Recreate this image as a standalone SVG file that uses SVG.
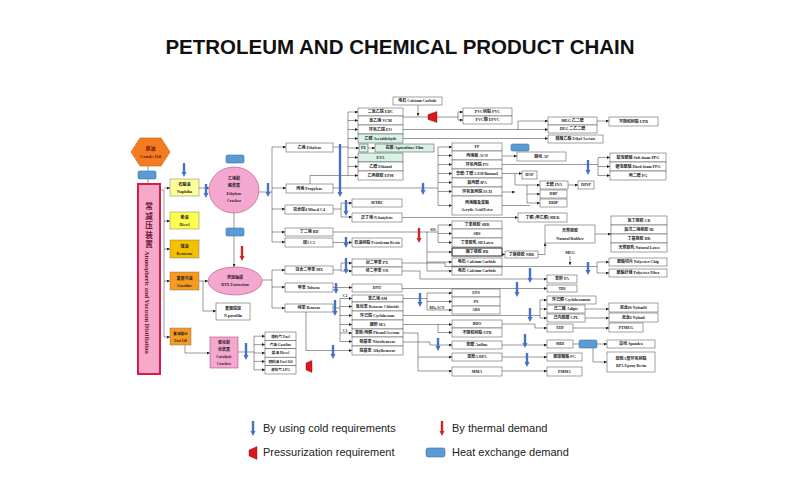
<svg xmlns="http://www.w3.org/2000/svg" width="800" height="500" viewBox="0 0 800 500">
<defs>
<style>
.n{fill:#fff;stroke:#444;stroke-width:0.5}
.g{fill:#d9f2e6;stroke:#444;stroke-width:0.5}
.t{font-family:"Liberation Serif","Noto Sans CJK SC",serif;font-size:4px;font-weight:bold;fill:#222;text-anchor:middle}
.s{font-size:3.6px}
.ln{fill:none;stroke:#333;stroke-width:0.5}
.ar{fill:none;stroke:#333;stroke-width:0.5;marker-end:url(#a)}
.bl{fill:none;stroke:#4472c4;stroke-width:2.4;marker-end:url(#ba)}
.rd{fill:none;stroke:#c62828;stroke-width:2.4;marker-end:url(#ra)}
.hx{fill:#5b9bd5;stroke:#41719c;stroke-width:0.6}
.pr{fill:#d7191f;stroke:#8a1010;stroke-width:0.4}
.lg{font-family:"Liberation Sans",Arial,sans-serif;font-size:11px;fill:#222}
.cj{font-family:"Noto Sans CJK SC",sans-serif;font-size:7.6px;font-weight:bold;fill:#6b1030;text-anchor:middle}
</style>
<marker id="a" viewBox="0 0 6 6" refX="6" refY="3" markerWidth="3" markerHeight="3" orient="auto" markerUnits="userSpaceOnUse"><path d="M0,0L6,3L0,6z" fill="#222"/></marker>
<marker id="ba" viewBox="0 0 6 6" refX="0" refY="3" markerWidth="5" markerHeight="5.5" orient="auto" markerUnits="userSpaceOnUse"><path d="M0,0L6,3L0,6z" fill="#4472c4"/></marker>
<marker id="ra" viewBox="0 0 6 6" refX="0" refY="3" markerWidth="5" markerHeight="5.5" orient="auto" markerUnits="userSpaceOnUse"><path d="M0,0L6,3L0,6z" fill="#c62828"/></marker>
</defs>
<rect width="800" height="500" fill="#fff"/>
<text x="400" y="54" text-anchor="middle" style="font-family:'Liberation Sans',Arial,sans-serif;font-size:20.5px;font-weight:bold;fill:#111">PETROLEUM AND CHEMICAL PRODUCT CHAIN</text>

<g id="connectors">
<path class="ln" d="M148,166V183"/>
<path class="ln" d="M160,190H164V337"/>
<path class="ar" d="M164,188H170"/><path class="ar" d="M164,221H170"/><path class="ar" d="M164,249H170"/><path class="ar" d="M164,281H170"/><path class="ar" d="M164,337H170"/>
<path class="ar" d="M199,188H209"/>
<path class="ar" d="M199,281H208"/>
<path class="ar" d="M234,213V267"/>
<path class="ar" d="M203,281V311H216"/>
<path class="ar" d="M185,345V353H210"/>
<path class="ln" d="M238,352H254M254,336.2V369.8"/>
<path class="ar" d="M254,336.2H265"/><path class="ar" d="M254,344.6H265"/><path class="ar" d="M254,353H265"/><path class="ar" d="M254,361.4H265"/><path class="ar" d="M254,369.8H265"/>
<path class="ln" d="M259,192H272M272,147V242"/>
<path class="ar" d="M272,147H286"/><path class="ar" d="M272,188H286"/><path class="ar" d="M272,209H285"/><path class="ar" d="M272,232H285"/><path class="ar" d="M272,242H285"/>
<path class="ln" d="M262,280H272M272,270V308"/>
<path class="ar" d="M272,270H285"/><path class="ar" d="M272,287H285"/><path class="ar" d="M272,308H285"/>
<path class="ln" d="M333,147H348M348,112V175.5M310,184V175.5H348"/>
<path class="ar" d="M348,112H358"/><path class="ar" d="M348,120.5H358"/><path class="ar" d="M348,129.5H358"/><path class="ar" d="M348,138.5H358"/><path class="ar" d="M348,148H359"/><path class="ar" d="M348,157.5H358"/><path class="ar" d="M348,166.5H358"/><path class="ar" d="M348,175.5H358"/>
<path class="ar" d="M368,148H375"/>
<path class="ln" d="M333,188H438M438,147V205.5"/>
<path class="ar" d="M438,147H452"/><path class="ar" d="M438,155.5H452"/><path class="ar" d="M438,164.5H452"/><path class="ar" d="M438,173.5H452"/><path class="ar" d="M438,182.5H452"/><path class="ar" d="M438,191.5H452"/><path class="ar" d="M438,205.5H452"/>
<path class="ar" d="M418,105V116"/>
<path class="ln" d="M403,117H428"/>
<path class="ln" d="M437,117H458M458,112V120"/>
<path class="ar" d="M458,112H463"/><path class="ar" d="M458,120H463"/>
<path class="ar" d="M403,129.5H548"/>
<path class="ar" d="M518,129.5V121H548"/>
<path class="ar" d="M403,138.5H548"/>
<path class="ar" d="M597,121H609"/>
<path class="ar" d="M502,156H517"/>
<path class="ln" d="M502,164.5H598M598,157.5V175.5"/>
<path class="ar" d="M598,157.5H610"/><path class="ar" d="M598,166.5H610"/><path class="ar" d="M598,175.5H610"/>
<path class="ar" d="M502,173.5H522"/>
<path class="ar" d="M515,173.5V185H540"/>
<path class="ln" d="M527,185V203"/>
<path class="ar" d="M527,194H540"/><path class="ar" d="M527,203H540"/>
<path class="ar" d="M568,185H578"/>
<path class="ar" d="M502,192H515"/><path class="ln" d="M502,205.5H530"/>
<path class="ln" d="M333,209H341M341,203V217"/>
<path class="ar" d="M341,203H352"/><path class="ar" d="M341,217H352"/>
<path class="ar" d="M402,217.5H518"/>
<path class="ln" d="M333,232H438M438,225V242.5"/>
<path class="ar" d="M438,225H452"/><path class="ar" d="M438,233.5H452"/><path class="ar" d="M438,242.5H452"/>
<path class="ar" d="M427,232V252H452"/>
<path class="ar" d="M427,252V262H452"/>
<path class="ar" d="M427,262V271H452"/>
<path class="ar" d="M502,254.5H505"/>
<path class="ar" d="M538,254.5H545V243"/>
<path class="ar" d="M595,234H611"/>
<path class="ar" d="M333,242.5H352"/>
<path class="ln" d="M333,270H341M341,263V271"/>
<path class="ar" d="M341,263H352"/><path class="ar" d="M341,271H352"/>
<path class="ln" d="M402,263H445V266.5H597M597,262V273"/>
<path class="ar" d="M597,262H609"/><path class="ar" d="M597,273H609"/>
<path class="ar" d="M570,256V265"/>
<path class="ar" d="M402,271H420V279H547"/>
<path class="ar" d="M333,287.5H352"/>
<path class="ar" d="M402,288.5H547"/>
<path class="ln" d="M333,308H340M340,298.5V341.5"/>
<path class="ar" d="M340,298.5H352"/><path class="ar" d="M340,306.5H352"/><path class="ar" d="M340,315.5H352"/><path class="ar" d="M340,324.5H352"/><path class="ar" d="M340,333H352"/><path class="ar" d="M340,341.5H352"/>
<path class="ar" d="M306,312V350.5H352"/>
<path class="ln" d="M403,298.5H427M427,293V310"/>
<path class="ar" d="M427,293H452"/><path class="ar" d="M427,301.5H452"/><path class="ar" d="M427,310H452"/>
<path class="ln" d="M403,315.5H540M540,300V318"/>
<path class="ar" d="M540,300H547"/><path class="ar" d="M540,309H547"/><path class="ar" d="M540,318H547"/>
<path class="ln" d="M403,324.5H438M438,324.5V332.5"/>
<path class="ar" d="M438,324.5H452"/><path class="ar" d="M438,332.5H452"/>
<path class="ar" d="M502,324H535V328H547"/>
<path class="ar" d="M573,328H609"/>
<path class="ar" d="M585,309H609"/><path class="ar" d="M585,318H609"/>
<path class="ln" d="M403,333H418V371"/>
<path class="ar" d="M418,357H452"/><path class="ar" d="M418,371H452"/>
<path class="ar" d="M403,342H430V345H452"/>
<path class="ar" d="M502,345H547"/>
<path class="ar" d="M502,357H547"/>
<path class="ar" d="M502,371H547"/>
<path class="ar" d="M573,344H607"/>
<path class="ar" d="M593,348V362H607"/>
</g>

<g id="crude-oil"><polygon points="131,152 140,138 161,138 170,152 161,166 140,166" fill="#f47b20" stroke="#c55a11" stroke-width="0.6"/><text class="t" x="150.5" y="150" style="font-size:5px;fill:#6b1a00">原油</text><text class="t" x="150.5" y="158" style="font-size:5px;fill:#6b1a00">Crude Oil</text></g>
<g id="hx1"><rect class="hx" x="138" y="171" width="18" height="8" rx="1.5"/></g>
<g id="distillation"><rect x="138" y="184" width="22" height="190" fill="#f6a9c9" stroke="#d81b4a" stroke-width="2"/>
<text class="cj" x="149" y="209">常</text><text class="cj" x="149" y="218.5">减</text><text class="cj" x="149" y="228">压</text><text class="cj" x="149" y="237.5">装</text><text class="cj" x="149" y="247">置</text>
<text transform="translate(145,251) rotate(90)" style="font-family:'Liberation Serif',serif;font-size:6.4px;font-weight:bold;fill:#6b1030">Atmospheric and Vacuum Distillation</text></g>
<g id="naphtha"><rect x="170" y="179" width="29" height="17" fill="#ffff99" stroke="#777" stroke-width="0.5"/><text class="t" x="184.5" y="186">石脑油</text><text class="t" x="184.5" y="193">Naphtha</text></g>
<g id="diesel"><rect x="170" y="212" width="29" height="17" fill="#ffff4d" stroke="#777" stroke-width="0.5"/><text class="t" x="184.5" y="219">柴油</text><text class="t" x="184.5" y="226">Diesel</text></g>
<g id="kerosene"><rect x="170" y="240" width="29" height="18" fill="#f5c000" stroke="#777" stroke-width="0.5"/><text class="t" x="184.5" y="247.5">煤油</text><text class="t" x="184.5" y="254.5">Kerosene</text></g>
<g id="gasoline"><rect x="170" y="272" width="29" height="18" fill="#f79a1e" stroke="#777" stroke-width="0.5"/><text class="t" x="184.5" y="279.5">重整汽油</text><text class="t" x="184.5" y="286.5">Gasoline</text></g>
<g id="fuel-oil"><rect x="170" y="328" width="21" height="17" fill="#f79a1e" stroke="#777" stroke-width="0.5"/><text class="t s" x="180.5" y="335">重油馏分</text><text class="t s" x="180.5" y="342">Fuel Oil</text></g>
<g id="hx2"><rect class="hx" x="226" y="155" width="18" height="8" rx="1.5"/></g>
<g id="ethylene-cracker"><ellipse cx="234" cy="190" rx="25" ry="23" fill="#f4a7cf" stroke="#b0507a" stroke-width="0.6"/><text class="t" x="234" y="180">乙烯裂</text><text class="t" x="234" y="187">解装置</text><text class="t" x="234" y="195">Ethylene</text><text class="t" x="234" y="202">Cracker</text></g>
<g id="hx3"><rect class="hx" x="226" y="228" width="18" height="8" rx="1.5"/></g>
<g id="btx"><ellipse cx="235" cy="281" rx="27" ry="14" fill="#f4a7cf" stroke="#b0507a" stroke-width="0.6"/><text class="t" x="235" y="279">芳烃抽提</text><text class="t" x="235" y="286">BTX Extraction</text></g>
<g id="n-paraffin"><rect class="n" x="216" y="303" width="34" height="17"/><text class="t" x="233" y="310">直馏烷烃</text><text class="t" x="233" y="317">N-paraffin</text></g>
<g id="catalytic-cracker"><rect x="210" y="337" width="28" height="31" fill="#f4a7cf" stroke="#b0507a" stroke-width="0.6"/><text class="t" x="224" y="344">催化裂</text><text class="t" x="224" y="351">化装置</text><text class="t" x="224" y="358">Catalytic</text><text class="t" x="224" y="365">Cracker</text></g>
<g id="cat-products"><rect class="n" x="265" y="332" width="31" height="8.4"/><rect class="n" x="265" y="340.4" width="31" height="8.4"/><rect class="n" x="265" y="348.8" width="31" height="8.4"/><rect class="n" x="265" y="357.2" width="31" height="8.4"/><rect class="n" x="265" y="365.6" width="31" height="8.4"/><text class="t s" x="280.5" y="337.6">燃料气 Fuel</text><text class="t s" x="280.5" y="346">汽油 Gasoline</text><text class="t s" x="280.5" y="354.4">柴油 Diesel</text><text class="t s" x="280.5" y="362.8">燃料油 Fuel Oil</text><text class="t s" x="280.5" y="371.2">液化气 LPG</text></g>

<g id="ethylene"><rect class="n" x="286" y="143" width="47" height="9"/><text class="t" x="309.5" y="148.9">乙烯 Ethylene</text></g>
<g id="propylene"><rect class="n" x="286" y="184" width="47" height="9"/><text class="t" x="309.5" y="189.9">丙烯 Propylene</text></g>
<g id="mixed-c4"><rect class="n" x="285" y="205" width="48" height="9"/><text class="t" x="309" y="210.9">混合碳4 Mixed C4</text></g>
<g id="bd"><rect class="n" x="285" y="228" width="48" height="8"/><text class="t" x="309" y="233.4">丁二烯 BD</text></g>
<g id="c5"><rect class="n" x="285" y="238" width="48" height="9"/><text class="t" x="309" y="243.9">碳5 C5</text></g>
<g id="mx"><rect class="n" x="285" y="266" width="48" height="8"/><text class="t" x="309" y="271.4">混合二甲苯 MX</text></g>
<g id="toluene"><rect class="n" x="285" y="283" width="48" height="9"/><text class="t" x="309" y="288.9">甲苯 Toluene</text></g>
<g id="benzene"><rect class="n" x="285" y="304" width="48" height="8"/><text class="t" x="309" y="309.4">纯苯 Benzene</text></g>

<g id="ethylene-products">
<rect class="n" x="358" y="108" width="45" height="8"/><text class="t" x="380.5" y="113.4">二氯乙烷 EDC</text>
<rect class="n" x="358" y="116" width="45" height="9"/><text class="t" x="380.5" y="121.9">氯乙烯 VCM</text>
<rect class="n" x="358" y="125" width="45" height="9"/><text class="t" x="380.5" y="130.9">环氧乙烷 EO</text>
<rect class="g" x="358" y="134" width="45" height="9"/><text class="t" x="380.5" y="139.9">乙醛 Acetaldehyde</text>
<rect class="g" x="359" y="144" width="9" height="8"/><text class="t" x="363.5" y="149.4">PE</text>
<rect class="g" x="358" y="153" width="45" height="9"/><text class="t" x="380.5" y="158.9">EVA</text>
<rect class="n" x="358" y="162" width="45" height="9"/><text class="t" x="380.5" y="167.9">乙醇 Ethanol</text>
<rect class="n" x="358" y="171" width="45" height="9"/><text class="t" x="380.5" y="176.9">乙丙橡胶 EPM</text>
</g>
<g id="agri-film"><rect class="g" x="375" y="144" width="59" height="8"/><text class="t" x="404.5" y="149.4">农膜 Agriculture Film</text></g>
<g id="calcium-carbide"><rect class="n" x="393" y="97" width="49" height="8"/><text class="t" x="417.5" y="102.4">电石 Calcium Carbide</text></g>
<g id="pressure1"><polygon class="pr" points="428,114.5 437,111.5 437,122.5 428,119.5"/></g>
<g id="pvc"><rect class="n" x="463" y="108" width="49" height="8"/><text class="t" x="487.5" y="113.4">PVC树脂 PVC</text><rect class="n" x="463" y="116" width="49" height="8"/><text class="t" x="487.5" y="121.4">PVC糊 EPVC</text></g>
<g id="meg-group"><rect class="n" x="548" y="117" width="49" height="8"/><text class="t" x="572.5" y="122.4">MEG 乙二醇</text><rect class="n" x="548" y="125" width="49" height="8"/><text class="t" x="572.5" y="130.4">DEG 二乙二醇</text><rect class="n" x="548" y="135" width="55" height="8"/><text class="t" x="575.5" y="140.4">醋酸乙酯 Ethyl Acetate</text></g>
<g id="upr1"><rect class="n" x="609" y="117" width="49" height="9"/><text class="t" x="633.5" y="122.9">不饱和树脂 UPR</text></g>

<g id="propylene-products">
<rect class="n" x="452" y="143" width="50" height="8"/><text class="t" x="477" y="148.4">PP</text>
<rect class="n" x="452" y="151" width="50" height="9"/><text class="t" x="477" y="156.9">丙烯腈 ACN</text>
<rect class="n" x="452" y="160" width="50" height="9"/><text class="t" x="477" y="165.9">环氧丙烷 PO</text>
<rect class="n" x="452" y="169" width="50" height="9"/><text class="t" x="477" y="174.9">辛醇/丁醇 2-EH/Butanol</text>
<rect class="n" x="452" y="178" width="50" height="9"/><text class="t" x="477" y="183.9">异丙醇 IPA</text>
<rect class="n" x="452" y="187" width="50" height="9"/><text class="t" x="477" y="192.9">环氧氯丙烷 ECH</text>
<rect class="n" x="452" y="196" width="50" height="19"/><text class="t" x="477" y="203.5">丙烯酸及其酯</text><text class="t" x="477" y="210.5">Acrylic Acid/Ester</text>
</g>
<g id="hx4"><rect class="hx" x="511" y="144" width="18" height="7" rx="1.5"/></g>
<g id="af"><rect class="n" x="517" y="152" width="49" height="9"/><text class="t" x="541.5" y="157.9">腈纶 AF</text></g>
<g id="dop"><rect class="n" x="522" y="171" width="15" height="8"/><text class="t" x="529.5" y="176.4">DOP</text></g>
<g id="ina"><rect class="n" x="540" y="181" width="28" height="8"/><text class="t" x="554" y="186.4">壬醇 INA</text></g>
<g id="dinp"><rect class="n" x="578" y="181" width="16" height="8"/><text class="t" x="586" y="186.4">DINP</text></g>
<g id="dbp"><rect class="n" x="540" y="190" width="27" height="8"/><text class="t" x="553.5" y="195.4">DBP</text><rect class="n" x="540" y="199" width="27" height="8"/><text class="t" x="553.5" y="204.4">DIBP</text></g>
<g id="mek"><rect class="n" x="518" y="213" width="49" height="9"/><text class="t" x="542.5" y="218.9">丁酮 (甲乙酮) MEK</text></g>
<g id="ppg"><rect class="n" x="610" y="153" width="56" height="9"/><text class="t" x="638" y="158.9">软泡聚醚 Soft-foam PPG</text><rect class="n" x="610" y="162" width="56" height="9"/><text class="t" x="638" y="167.9">硬泡聚醚 Hard-foam PPG</text><rect class="n" x="610" y="171" width="56" height="9"/><text class="t" x="638" y="176.9">丙二醇 PG</text></g>

<g id="mtbe"><rect class="n" x="352" y="199" width="50" height="8"/><text class="t" x="377" y="204.4">MTBE</text></g>
<g id="n-butylene"><rect class="n" x="352" y="213" width="50" height="9"/><text class="t" x="377" y="218.9">正丁烯 N-butylene</text></g>
<g id="resin"><rect class="n" x="352" y="238" width="50" height="9"/><text class="t" x="377" y="243.9">石油树脂 Petroleum Resin</text></g>
<g id="px"><rect class="n" x="352" y="259" width="50" height="8"/><text class="t" x="377" y="264.4">对二甲苯 PX</text><rect class="n" x="352" y="267" width="50" height="8"/><text class="t" x="377" y="272.4">邻二甲苯 OX</text></g>
<g id="dnt"><rect class="n" x="352" y="284" width="50" height="8"/><text class="t" x="377" y="289.4">DNT</text></g>

<g id="rubber-products">
<rect class="n" x="452" y="221" width="50" height="8"/><text class="t" x="477" y="226.4">丁苯橡胶 SBR</text>
<rect class="n" x="452" y="229" width="50" height="9"/><text class="t" x="477" y="234.9">SBS</text>
<rect class="n" x="452" y="238" width="50" height="9"/><text class="t" x="477" y="243.9">丁苯胶乳 SB Latex</text>
<rect x="452" y="248" width="50" height="8" fill="#fff" stroke="#222" stroke-width="1"/><text class="t" x="477" y="253.4">顺丁橡胶 BR</text>
<rect class="n" x="452" y="258" width="50" height="8"/><text class="t" x="477" y="263.4">电石 Calcium Carbide</text>
<rect class="n" x="452" y="267" width="50" height="8"/><text class="t" x="477" y="272.4">电石 Calcium Carbide</text>
</g>
<g id="nbr"><rect class="n" x="505" y="251" width="33" height="7"/><text class="t" x="521.5" y="255.9">丁腈橡胶 NBR</text></g>
<g id="natural-rubber"><rect class="n" x="545" y="225" width="50" height="18"/><text class="t" x="570" y="232">天然橡胶</text><text class="t" x="570" y="239.5">Natural Rubber</text></g>
<g id="rubber-group"><rect class="n" x="611" y="216" width="56" height="9"/><text class="t" x="639" y="221.9">氯丁橡胶 CR</text><rect class="n" x="611" y="225" width="56" height="9"/><text class="t" x="639" y="230.9">异戊二烯橡胶 IR</text><rect class="n" x="611" y="234" width="56" height="9"/><text class="t" x="639" y="239.9">丁基橡胶 IIR</text><rect class="n" x="611" y="243" width="56" height="9"/><text class="t" x="639" y="248.9">天然胶乳 Natural Latex</text></g>
<g id="meg-label"><text class="t" x="570" y="254">MEG</text></g>
<g id="polyester"><rect class="n" x="609" y="258" width="58" height="8"/><text class="t" x="638" y="263.4">聚酯切片 Polyester Chip</text><rect class="n" x="609" y="269" width="58" height="8"/><text class="t" x="638" y="274.4">聚酯纤维 Polyester Fiber</text></g>
<g id="pa"><rect class="n" x="547" y="275" width="30" height="8"/><text class="t" x="562" y="280.4">苯酐 PA</text></g>
<g id="tdi"><rect class="n" x="547" y="285" width="30" height="7"/><text class="t" x="562" y="289.9">TDI</text></g>
<g id="cyclohexanone"><rect class="n" x="547" y="296" width="49" height="8"/><text class="t" x="571.5" y="301.4">环己酮 Cyclohexanone</text></g>
<g id="adipic"><rect class="n" x="547" y="305" width="38" height="8"/><text class="t" x="566" y="310.4">己二酸 Adipic</text><rect class="n" x="547" y="314" width="38" height="8"/><text class="t" x="566" y="319.4">己内酰胺 CPL</text></g>
<g id="thf"><rect class="n" x="547" y="324" width="26" height="8"/><text class="t" x="560" y="329.4">THF</text></g>
<g id="nylon"><rect class="n" x="609" y="303" width="49" height="9"/><text class="t" x="633.5" y="308.9">尼龙66 Nylon66</text><rect class="n" x="609" y="313" width="49" height="9"/><text class="t" x="633.5" y="318.9">尼龙6 Nylon6</text></g>
<g id="ptmeg"><rect class="n" x="609" y="323" width="34" height="9"/><text class="t" x="626" y="328.9">PTMEG</text></g>
<g id="mdi"><rect class="n" x="547" y="340" width="26" height="8"/><text class="t" x="560" y="345.4">MDI</text></g>
<g id="hx5"><rect class="hx" x="579" y="340" width="18" height="8" rx="1.5"/></g>
<g id="spandex"><rect class="n" x="607" y="340" width="48" height="8"/><text class="t" x="631" y="345.4">氨纶 Spandex</text></g>
<g id="epoxy"><rect class="n" x="607" y="352" width="48" height="20"/><text class="t" x="631" y="359.5">双酚A型环氧树脂</text><text class="t" x="631" y="367">BPA Epoxy Resin</text></g>
<g id="pc"><rect class="n" x="547" y="353" width="35" height="8"/><text class="t" x="564.5" y="358.4">聚碳酸酯 PC</text></g>
<g id="pmma"><rect class="n" x="547" y="367" width="35" height="9"/><text class="t" x="564.5" y="372.9">PMMA</text></g>

<g id="benzene-products">
<rect class="n" x="352" y="295" width="51" height="7"/><text class="t" x="377.5" y="299.9">苯乙烯 SM</text>
<rect class="n" x="352" y="302" width="51" height="9"/><text class="t" x="377.5" y="307.9">氯化苯 Benzene Chloride</text>
<rect class="n" x="352" y="311" width="51" height="9"/><text class="t" x="377.5" y="316.9">环己烷 Cyclohexane</text>
<rect class="n" x="352" y="320" width="51" height="9"/><text class="t" x="377.5" y="325.9">顺酐 MA</text>
<rect class="n" x="352" y="329" width="51" height="8"/><text class="t" x="377.5" y="334.4">苯酚/丙酮 Phenol/Acetone</text>
<rect class="n" x="352" y="337" width="51" height="9"/><text class="t" x="377.5" y="342.9">硝基苯 Nitrobenzene</text>
<rect class="n" x="352" y="346" width="51" height="9"/><text class="t" x="377.5" y="351.9">烷基苯 Alkylbenzene</text>
</g>
<g id="styrenics"><rect class="n" x="452" y="289" width="48" height="8"/><text class="t" x="476" y="294.4">EPS</text><rect class="n" x="452" y="297" width="48" height="9"/><text class="t" x="476" y="302.9">PS</text><rect class="n" x="452" y="306" width="48" height="8"/><text class="t" x="476" y="311.4">ABS</text></g>
<g id="bdo"><rect class="n" x="452" y="320" width="50" height="8"/><text class="t" x="477" y="325.4">BDO</text><rect class="n" x="452" y="328" width="50" height="9"/><text class="t" x="477" y="333.9">不饱和树脂 UPR</text></g>
<g id="aniline"><rect class="n" x="452" y="341" width="50" height="8"/><text class="t" x="477" y="346.4">苯胺 Aniline</text></g>
<g id="bpa"><rect class="n" x="452" y="353" width="50" height="8"/><text class="t" x="477" y="358.4">双酚A BPA</text></g>
<g id="mma"><rect class="n" x="452" y="367" width="50" height="9"/><text class="t" x="477" y="372.9">MMA</text></g>
<g id="labels"><text class="t s" x="345" y="297">C2</text><text class="t s" x="345" y="332">C3</text><text class="t s" x="433" y="231">SIS</text><text class="t s" x="437" y="308.5">BD+ACN</text></g>
<g id="pressure2"><polygon class="pr" points="306,363 312,360.5 312,372.5 306,370"/></g>

<g id="demand-arrows">
<path class="bl" d="M184,163V172"/>
<path class="bl" d="M206,184V193"/>
<path class="bl" d="M268,183V192"/>
<path class="bl" d="M340,144V192"/>
<path class="bl" d="M346,200V211"/>
<path class="bl" d="M346,237V243"/>
<path class="bl" d="M346,258V269"/>
<path class="bl" d="M336,283V289"/>
<path class="bl" d="M335,300V311"/>
<path class="bl" d="M333,345V354"/>
<path class="bl" d="M246,343V355"/>
<path class="bl" d="M423,183V190"/>
<path class="bl" d="M420,293V302"/>
<path class="bl" d="M517,282V292"/>
<path class="bl" d="M530,268V278"/>
<path class="bl" d="M530,308V317"/>
<path class="bl" d="M438,338V346"/>
<path class="bl" d="M525,334V343"/>
<path class="bl" d="M527,353V362"/>
<path class="bl" d="M588,160V170"/>
<path class="bl" d="M588,262V270"/>
<path class="rd" d="M242,246V256"/>
<path class="rd" d="M419,228V238"/>
</g>

<g id="legend">
<path class="bl" d="M253,421V431"/>
<text class="lg" x="263" y="432">By using cold requirements</text>
<path class="rd" d="M442,421V431"/>
<text class="lg" x="452" y="432">By thermal demand</text>
<polygon class="pr" points="249,450 257,446.5 257,459.5 249,456"/>
<text class="lg" x="263" y="456">Pressurization requirement</text>
<rect class="hx" x="426" y="448" width="19" height="9" rx="2"/>
<text class="lg" x="452" y="456">Heat exchange demand</text>
</g>
</svg>
